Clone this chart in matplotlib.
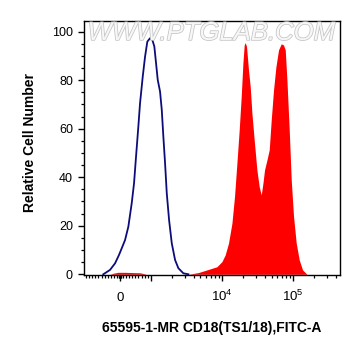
import numpy as np
import matplotlib
matplotlib.use("Agg")
import matplotlib.pyplot as plt
import matplotlib.patheffects as pe

plt.rcParams['font.family'] = ['Liberation Sans', 'DejaVu Sans']
plt.rcParams['mathtext.fontset'] = 'custom'
plt.rcParams['mathtext.rm'] = 'Liberation Sans'
plt.rcParams['mathtext.it'] = 'Liberation Sans'

# isotype control (blue outline), FITC intensity vs count
ctrl_x = [-543, -325, -162, -32, 55, 163, 270, 380, 455, 520, 595, 650, 738, 813,
          887, 975, 1051, 1121, 1185, 1252, 1349, 1426, 1502, 1587, 1677, 1807,
          1972, 2195, 2443, 2872, 3379]
ctrl_y = [0, 1.8, 4.5, 8.0, 10.7, 14.1, 19.6, 29.3, 37.5, 48.5, 60.9, 70.5, 81.5, 89.7,
          95.9, 97.3, 96.6, 93.9, 87.0, 80.1, 75.3, 67.8, 56.7, 45.8, 33.4, 22.4,
          12.8, 5.9, 2.5, 0.4, 0]

# CD18 stained sample (red filled)
stain_x = [-600, -325, -227, -65, 163, 390, 650, 763, 845, 2000, 3388, 4688, 6480,
           8511, 10010, 11140, 12400, 13850, 15070, 16280, 17540, 18720, 19780,
           20630, 21310, 22230, 23710, 25060, 26490, 28510, 31130, 33560, 35810,
           37840, 39860, 43080, 46420, 49530, 53370, 57680, 62780, 68490, 73790,
           77980, 82410, 88750, 94740, 102100, 111400, 122800, 136700, 157700, 200000]
stain_y = [0, 0, 0.4, 0.8, 0.8, 0.7, 0.6, 0.3, 0, 0, 0, 0.7, 2.0,
           3.1, 5.2, 8.0, 12.8, 21.0, 32.0, 45.8, 59.5, 73.2, 87.0,
           94.5, 95.5, 93.9, 84.2, 77.4, 66.4, 55.4, 43.0, 36.1, 32.7,
           37.5, 43.0, 47.1, 51.3, 63.6, 76.0, 85.6, 92.5, 95.0, 94.5,
           92.5, 80.0, 59.5, 38.9, 23.8, 12.8, 5.9, 1.8, 0, 0]

x_major = [0, 1000, 10000, 100000]
x_labels = ['0', '', '$10^4$', '$10^5$']
x_minor = (list(range(-1100, 0, 100)) + [-40, -20, 20, 40] + list(range(100, 1000, 100))
           + list(range(2000, 10000, 1000)) + list(range(20000, 100000, 10000))
           + [200000, 300000, 400000])

fig = plt.figure(figsize=(3.61, 3.56), dpi=100)
ax = fig.add_axes([84 / 361, 1 - 275 / 356, 256 / 361, 254 / 356])

ax.fill_between(stain_x, stain_y, 0, color='#ff0000', lw=0)
ax.plot(ctrl_x, ctrl_y, color='#0c0c7a', lw=1.3)

ax.set_xscale('symlog', linthresh=1000, linscale=0.39, base=10)
ax.set_xlim(-1185, 4.6e5)
ax.set_ylim(-0.3, 104.4)

ax.set_xticks(x_major)
ax.set_xticklabels(x_labels, fontsize=9.5)
ax.set_xticks(x_minor, minor=True)
ax.set_yticks([0, 20, 40, 60, 80, 100])
ax.set_yticks(np.arange(0, 105, 5), minor=True)
ax.tick_params(axis='both', which='major', direction='out', length=4.5, width=1)
ax.tick_params(axis='both', which='minor', direction='out', length=2.3, width=0.9)
ax.tick_params(axis='y', labelsize=9, pad=3.5)
ax.tick_params(axis='x', pad=14)
for lbl in ax.get_xticklabels():
    lbl.set_va('baseline')

for s in ax.spines.values():
    s.set_linewidth(1)

ax.set_xlabel('65595-1-MR CD18(TS1/18),FITC-A', fontsize=10, fontweight='bold', va='top')
ax.xaxis.set_label_coords(0.5, -0.183)
ax.set_ylabel('Relative Cell Number', fontsize=10, fontweight='bold')
ax.yaxis.set_label_coords(-0.184, 0.52)

ax.text(0.498, 0.953, 'WWW.PTGLAB.COM', transform=ax.transAxes, ha='center', va='center',
        fontsize=18.5, style='italic', color='#f7f7f7',
        path_effects=[pe.Stroke(linewidth=1.1, foreground='#c4c4c4'), pe.Normal()])

fig.savefig('out.png', dpi=100)
